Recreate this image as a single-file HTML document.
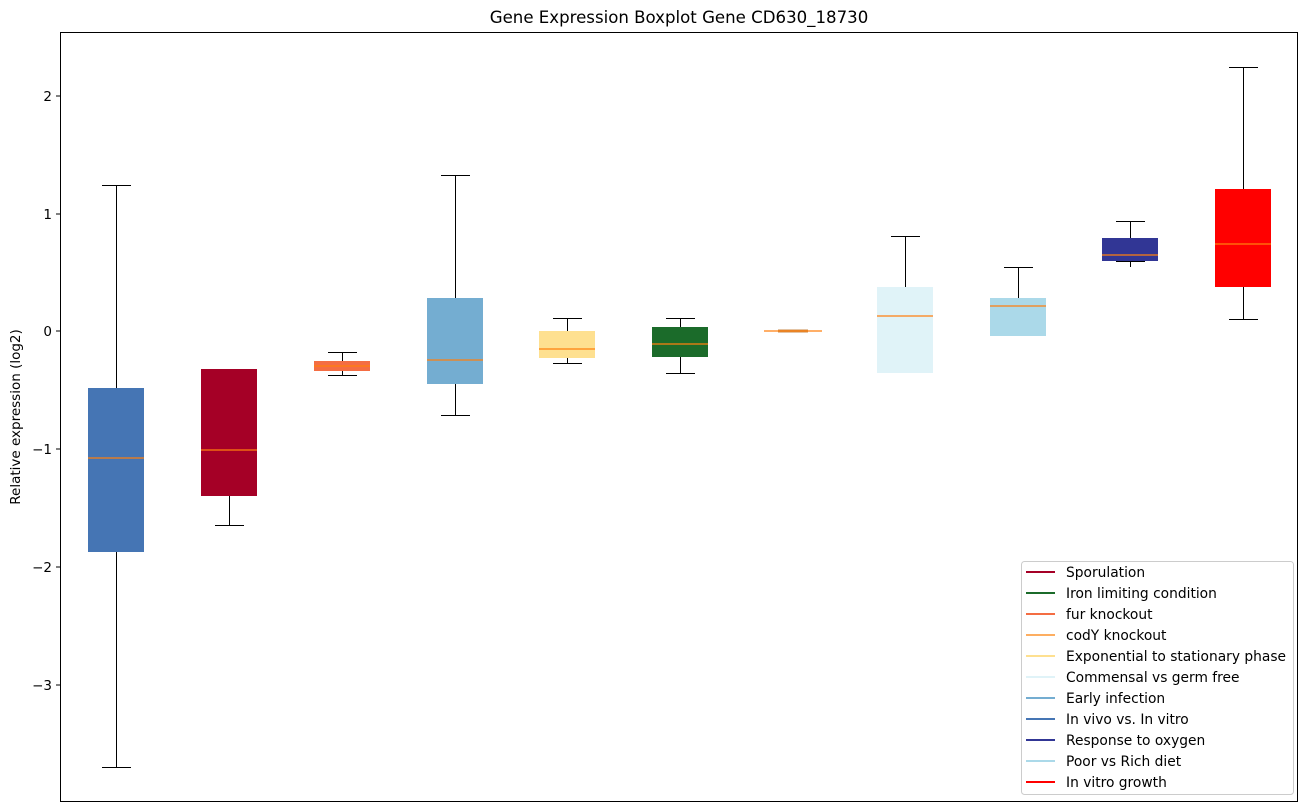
<!DOCTYPE html><html><head><style>body{margin:0;background:#fff}svg{display:block}text{font-family:"DejaVu Sans","Liberation Sans",sans-serif}</style></head><body>
<svg width="1309" height="812" xmlns="http://www.w3.org/2000/svg">
<rect width="1309" height="812" fill="#fff"/>
<text x="679" y="23" font-size="16.6" text-anchor="middle">Gene Expression Boxplot Gene CD630_18730</text>
<g stroke="#000" stroke-width="1" shape-rendering="crispEdges">
<line x1="116.5" y1="185.5" x2="116.5" y2="767.5"/><line x1="102" y1="185.5" x2="131" y2="185.5"/><line x1="102" y1="767.5" x2="131" y2="767.5"/>
<rect x="88" y="388" width="56" height="164" fill="#4575b4" stroke="none"/>
<line x1="229.5" y1="496" x2="229.5" y2="525.5"/><line x1="215" y1="369.5" x2="244" y2="369.5"/><line x1="215" y1="525.5" x2="244" y2="525.5"/>
<rect x="201" y="369" width="56" height="127" fill="#a50026" stroke="none"/>
<line x1="342.5" y1="352.5" x2="342.5" y2="375.5"/><line x1="328" y1="352.5" x2="357" y2="352.5"/><line x1="328" y1="375.5" x2="357" y2="375.5"/>
<rect x="314" y="361" width="56" height="10" fill="#f46d43" stroke="none"/>
<line x1="455.5" y1="175.5" x2="455.5" y2="415.5"/><line x1="441" y1="175.5" x2="470" y2="175.5"/><line x1="441" y1="415.5" x2="470" y2="415.5"/>
<rect x="427" y="298" width="56" height="86" fill="#74add1" stroke="none"/>
<line x1="567.5" y1="318.5" x2="567.5" y2="363.5"/><line x1="553" y1="318.5" x2="582" y2="318.5"/><line x1="553" y1="363.5" x2="582" y2="363.5"/>
<rect x="539" y="331" width="56" height="27" fill="#fee090" stroke="none"/>
<line x1="680.5" y1="318.5" x2="680.5" y2="373.5"/><line x1="666" y1="318.5" x2="695" y2="318.5"/><line x1="666" y1="373.5" x2="695" y2="373.5"/>
<rect x="652" y="327" width="56" height="30" fill="#1b6b2a" stroke="none"/>
<line x1="778" y1="331" x2="808" y2="331" stroke="#c98a4a" stroke-width="3"/>
<line x1="905.5" y1="236.5" x2="905.5" y2="373"/><line x1="891" y1="236.5" x2="920" y2="236.5"/>
<rect x="877" y="287" width="56" height="86" fill="#e0f3f8" stroke="none"/>
<line x1="1018.5" y1="267.5" x2="1018.5" y2="298"/><line x1="1004" y1="267.5" x2="1033" y2="267.5"/>
<rect x="990" y="298" width="56" height="38" fill="#abd9e9" stroke="none"/>
<line x1="1130.5" y1="221.5" x2="1130.5" y2="267"/><line x1="1116" y1="221.5" x2="1145" y2="221.5"/><line x1="1116" y1="261.5" x2="1145" y2="261.5"/>
<rect x="1102" y="238" width="56" height="23" fill="#313695" stroke="none"/>
<line x1="1243.5" y1="67.5" x2="1243.5" y2="319.5"/><line x1="1229" y1="67.5" x2="1258" y2="67.5"/><line x1="1229" y1="319.5" x2="1258" y2="319.5"/>
<rect x="1215" y="189" width="56" height="98" fill="#ff0000" stroke="none"/>
</g>
<g stroke="#ff7f0e" stroke-width="1.3">
<line x1="88" y1="458" x2="144" y2="458"/><line x1="201" y1="450" x2="257" y2="450"/><line x1="314" y1="366" x2="370" y2="366"/>
<line x1="427" y1="360" x2="483" y2="360"/><line x1="539" y1="349" x2="595" y2="349"/><line x1="652" y1="344" x2="708" y2="344"/>
<line x1="764" y1="331" x2="822" y2="331"/><line x1="877" y1="316" x2="933" y2="316"/><line x1="990" y1="306" x2="1046" y2="306"/>
<line x1="1102" y1="255" x2="1158" y2="255"/><line x1="1215" y1="244" x2="1271" y2="244"/>
</g>
<rect x="60.5" y="32.5" width="1237" height="769" fill="none" stroke="#000"/>
<g stroke="#000"><line x1="56" y1="96" x2="60" y2="96"/><line x1="56" y1="214" x2="60" y2="214"/><line x1="56" y1="331" x2="60" y2="331"/><line x1="56" y1="449" x2="60" y2="449"/><line x1="56" y1="567" x2="60" y2="567"/><line x1="56" y1="685" x2="60" y2="685"/></g>
<g font-size="13.5" text-anchor="end"><text x="52" y="101">2</text><text x="52" y="219">1</text><text x="52" y="336">0</text><text x="52" y="454">−1</text><text x="52" y="572">−2</text><text x="52" y="690">−3</text></g>
<text transform="translate(20,417) rotate(-90)" font-size="13.5" text-anchor="middle">Relative expression (log2)</text>
<rect x="1021.5" y="561.5" width="272" height="233" rx="3" fill="#fff" stroke="#ccc"/>
<g stroke-width="2">
<line x1="1026" y1="572" x2="1055" y2="572" stroke="#a50026"/><line x1="1026" y1="593" x2="1055" y2="593" stroke="#1b6b2a"/><line x1="1026" y1="614" x2="1055" y2="614" stroke="#f46d43"/><line x1="1026" y1="635" x2="1055" y2="635" stroke="#fdae61"/><line x1="1026" y1="656" x2="1055" y2="656" stroke="#fee090"/><line x1="1026" y1="677" x2="1055" y2="677" stroke="#e0f3f8"/><line x1="1026" y1="698" x2="1055" y2="698" stroke="#74add1"/><line x1="1026" y1="719" x2="1055" y2="719" stroke="#4575b4"/><line x1="1026" y1="740" x2="1055" y2="740" stroke="#313695"/><line x1="1026" y1="761" x2="1055" y2="761" stroke="#abd9e9"/><line x1="1026" y1="782" x2="1055" y2="782" stroke="#ff0000"/>
</g>
<g font-size="13.8"><text x="1066" y="577">Sporulation</text><text x="1066" y="598">Iron limiting condition</text><text x="1066" y="619">fur knockout</text><text x="1066" y="640">codY knockout</text><text x="1066" y="661">Exponential to stationary phase</text><text x="1066" y="682">Commensal vs germ free</text><text x="1066" y="703">Early infection</text><text x="1066" y="724">In vivo vs. In vitro</text><text x="1066" y="745">Response to oxygen</text><text x="1066" y="766">Poor vs Rich diet</text><text x="1066" y="787">In vitro growth</text></g>
</svg></body></html>
